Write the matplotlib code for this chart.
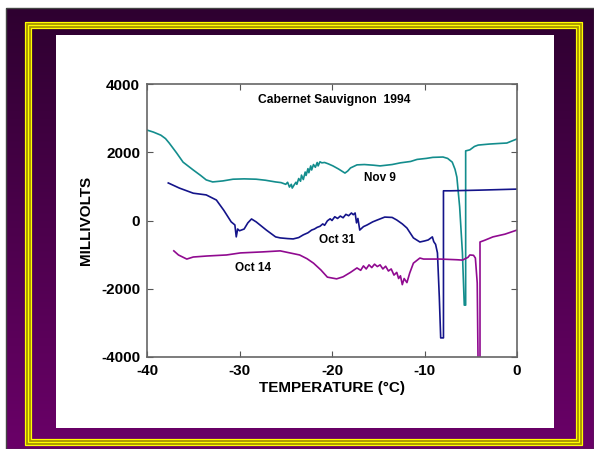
"""
Cabernet Sauvignon 1994: thermal analysis traces (millivolts vs temperature).
"""

import numpy as np
import matplotlib
matplotlib.use('Agg')
import matplotlib.pyplot as plt
from matplotlib.patches import Rectangle

# Nov 9 trace
nov9_t = [-40, -39.3, -38.5, -38.0, -37.6, -36.8, -36.1, -35.0, -34.2, -33.6,
          -32.9, -31.8, -30.7, -29.5, -28.2, -27.2, -26.1, -25.5, -25.0, -24.8,
          -24.6, -24.4, -24.3, -24.1, -23.9, -23.8, -23.6, -23.4, -23.3, -23.1,
          -22.9, -22.8, -22.6, -22.5, -22.3, -22.2, -22.0, -21.8, -21.6, -21.5,
          -21.3, -21.1, -20.8, -20.4, -19.9, -19.3, -18.6, -18.3, -18.0, -17.3,
          -16.5, -15.5, -14.8, -13.5, -12.6, -11.5, -10.8, -9.8, -9.1, -8.0,
          -7.5, -7.0, -6.7, -6.5, -6.2, -5.9, -5.7, -5.55, -5.55, -5.1,
          -4.6, -4.2, -3.0, -1.8, -1.1, 0]
nov9_mv = [2650, 2590, 2500, 2400, 2270, 1980, 1710, 1480, 1320, 1190,
           1130, 1160, 1210, 1220, 1210, 1180, 1130, 1110, 1060, 1120,
           980, 1060, 950, 1040, 1120, 1060, 1230, 1150, 1330, 1200,
           1420, 1320, 1520, 1400, 1600, 1480, 1640, 1560, 1700, 1600,
           1720, 1690, 1700, 1660, 1600, 1510, 1390, 1450, 1540, 1630,
           1640, 1620, 1600, 1640, 1690, 1730, 1790, 1820, 1850, 1860,
           1820, 1710, 1500, 1270, 400, -950, -2480, -2480, 2040, 2070,
           2170, 2210, 2240, 2260, 2270, 2390]

# Oct 31 trace
oct31_t = [-37.7, -36.5, -35.0, -33.6, -32.5, -31.7, -30.9, -30.5, -30.35, -30.2,
           -30.0, -29.5, -29.1, -28.7, -28.2, -27.1, -26.1, -25.6, -24.8, -24.2,
           -23.6, -23.1, -22.6, -22.2, -21.9, -21.6, -21.3, -21.0, -20.8, -20.5,
           -20.2, -20.0, -19.7, -19.4, -19.1, -18.8, -18.5, -18.2, -17.9, -17.7,
           -17.5, -17.35, -17.2, -17.0, -16.6, -16.2, -15.6, -15.1, -14.3, -13.5,
           -13.0, -12.4, -11.9, -11.2, -10.5, -10.0, -9.6, -9.3, -9.15, -9.0,
           -8.8, -8.6, -8.4, -8.25, -7.95, -7.95, -7.2, -4.0, 0]
oct31_mv = [1100, 950, 800, 750, 600, 300, -40, -130, -480, -250,
            -300, -250, -70, 45, -40, -280, -480, -510, -530, -540,
            -500, -420, -360, -280, -250, -200, -170, -100, -140, -10,
            50, 0, 110, 60, 130, 80, 180, 140, 220, 170,
            220, -70, 60, -280, -180, -130, -40, 15, 100, 90,
            15, -100, -220, -510, -630, -600, -570, -510, -480, -620,
            -700, -950, -2240, -3440, -3440, 870, 870, 890, 920]

# Oct 14 trace
oct14_t = [-37.1, -36.6, -35.7, -35.0, -33.5, -31.4, -29.9, -27.5, -25.6, -23.5,
           -22.7, -22.0, -21.2, -20.5, -19.5, -18.8, -18.0, -17.3, -16.9, -16.6,
           -16.3, -16.0, -15.7, -15.4, -15.1, -14.8, -14.5, -14.2, -13.9, -13.6,
           -13.3, -13.0, -12.8, -12.6, -12.4, -12.2, -11.9, -11.6, -11.2, -10.5,
           -10.1, -8.3, -6.5, -5.9, -5.3, -5.1, -4.7, -4.5, -4.3, -4.2,
           -4.0, -4.0, -3.5, -2.6, -1.3, 0]
oct14_mv = [-890, -1010, -1130, -1070, -1040, -1010, -950, -920, -890, -1010,
            -1120, -1250, -1450, -1660, -1710, -1650, -1520, -1390, -1460, -1330,
            -1420, -1300, -1380, -1280, -1350, -1300, -1420, -1340, -1480, -1420,
            -1600, -1520, -1700, -1620, -1880, -1700, -1820, -1540, -1250, -1100,
            -1130, -1130, -1150, -1160, -1080, -1010, -1020, -1100, -1830, -4400,
            -4400, -630, -580, -480, -400, -280]

series = [
    (nov9_t, nov9_mv, '#138d8d', 'Nov 9', (-14.8, 1250)),
    (oct31_t, oct31_mv, '#14148a', 'Oct 31', (-19.5, -570)),
    (oct14_t, oct14_mv, '#900a90', 'Oct 14', (-28.5, -1390)),
]

plt.rcParams['axes.unicode_minus'] = False
plt.rcParams['font.family'] = 'Liberation Sans'

W, H = 594, 449
fig = plt.figure(figsize=(W / 100, H / 100), dpi=100)

# Slide-style frame: purple gradient, yellow rules, white panel.
bg = fig.add_axes([0, 0, 1, 1])
bg.set_xlim(0, W)
bg.set_ylim(H, 0)
bg.axis('off')
grad = np.linspace(0, 1, 256).reshape(-1, 1)
cmap = matplotlib.colors.LinearSegmentedColormap.from_list('p', ['#2e0030', '#6a0068'])
bg.imshow(grad, cmap=cmap, extent=(6, W, H, 8), aspect='auto', zorder=0)
bg.add_patch(Rectangle((6, 8), W - 6, H - 8, fill=False, ec='#444444', lw=1, zorder=1))
px = 72 / 100
bg.add_patch(Rectangle((27.5, 24.5), 551, 417, fill=False, ec='#a89400', lw=7 * px, zorder=2))
for d in (0.5, 3.5, 6.5):
    bg.add_patch(Rectangle((24 + d, 21 + d), 558 - 2 * d, 424 - 2 * d,
                           fill=False, ec='#ffff00', lw=1.2 * px, zorder=3))
bg.add_patch(Rectangle((56, 35), 498, 393, fc='white', ec='none', zorder=4))

ax = fig.add_axes([147 / W, 1 - 357 / H, 370 / W, 273 / H])
for t, mv, color, label, pos in series:
    ax.plot(t, mv, color=color, lw=1.2)
    ax.text(pos[0], pos[1], label, ha='center', va='center',
            fontsize=8.5, fontweight='bold')

ax.text(-19.8, 3530, 'Cabernet Sauvignon  1994', ha='center', va='center',
        fontsize=8.7, fontweight='bold')

ax.set_xlim(-40, 0)
ax.set_ylim(-4000, 4000)
ax.set_xticks([-40, -30, -20, -10, 0])
ax.set_yticks([-4000, -2000, 0, 2000, 4000])
ax.tick_params(direction='in', top=True, right=True, length=4, width=0.8,
               color='#555555', pad=5)
for lab in ax.get_xticklabels() + ax.get_yticklabels():
    lab.set_fontsize(11)
    lab.set_fontweight('bold')
for s in ax.spines.values():
    s.set_color('#666666')
    s.set_linewidth(1.2)

ax.set_xlabel('TEMPERATURE (°C)', fontsize=11, fontweight='bold', labelpad=2)
ax.set_ylabel('MILLIVOLTS', fontsize=11, fontweight='bold', labelpad=6)

fig.savefig('out.png', dpi=100)
